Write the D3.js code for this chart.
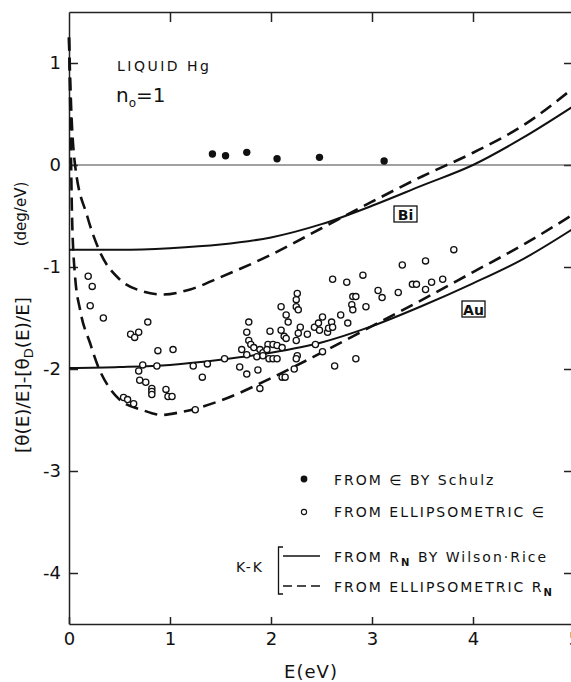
<!DOCTYPE html>
<meta charset="UTF-8">
<style>
  body { margin: 0; background: #fff; }
  svg text { font-family: "DejaVu Sans", sans-serif; fill: #111; }
  .axis path, .axis line { stroke: #222; stroke-width: 1.5px; }
  .axis text { font-size: 18px; font-family: "DejaVu Sans", sans-serif; fill: #111; }
  .curve { fill: none; stroke: #111; stroke-width: 2px; }
  .dashed { stroke-dasharray: 13,7; stroke-width: 2.6px; }
</style>
<body>
<svg id="chart" width="571" height="682"></svg>

<script src="https://d3js.org/d3.v7.min.js"></script>
<script>

// tick values
var xTicks = [0, 1, 2, 3, 4, 5];
var yTicks = [1, 0, -1, -2, -3, -4];

// filled dots : from epsilon by Schulz
var schulzE   = [1.42, 1.55, 1.76, 2.06, 2.48, 3.12];
var schulzVal = [0.108, 0.091, 0.124, 0.062, 0.075, 0.039];

// open circles : from ellipsometric epsilon
var ellipsE = [0.19, 0.23, 0.21, 0.34, 0.78, 0.61, 0.69, 0.65, 0.88, 1.03,
  0.73, 0.69, 0.87, 1.23, 0.70, 0.76, 0.82, 0.82, 0.82, 0.96,
  0.98, 1.02, 0.54, 0.58, 0.64, 1.25, 1.37, 1.54, 1.32,
  1.69, 1.76, 1.87, 1.89, 1.78, 1.76, 1.78, 1.80, 1.83, 1.71,
  1.76, 1.86, 1.89, 1.92, 1.92, 1.97, 1.96, 2.02, 2.06, 2.11,
  1.99, 1.98, 2.02, 2.06, 2.10, 2.13, 2.15, 2.10, 2.15, 2.17,
  2.25, 2.26, 2.25, 2.27, 2.29, 2.27, 2.25, 2.26, 2.25, 2.23,
  2.11, 2.14, 2.36, 2.43, 2.47, 2.44,
  2.48, 2.51, 2.51, 2.56, 2.57, 2.60, 2.61, 2.61, 2.63, 2.69,
  2.75, 2.76, 2.81, 2.84, 2.80, 2.81, 2.84, 2.91, 2.94, 3.06,
  3.10, 3.26, 3.30, 3.40, 3.44, 3.53, 3.53, 3.59, 3.70, 3.81];
var ellipsVal = [-1.09, -1.19, -1.38, -1.50, -1.54, -1.66, -1.64, -1.69, -1.82, -1.81,
  -1.96, -2.02, -1.97, -1.97, -2.11, -2.13, -2.19, -2.22, -2.25, -2.20,
  -2.27, -2.27, -2.28, -2.30, -2.34, -2.40, -1.95, -1.90, -2.08,
  -1.98, -2.05, -2.01, -2.19, -1.54, -1.64, -1.72, -1.76, -1.79, -1.81,
  -1.86, -1.88, -1.81, -1.84, -1.87, -1.76, -1.81, -1.76, -1.77, -1.79,
  -1.63, -1.90, -1.90, -1.90, -1.62, -1.68, -1.70, -1.39, -1.47, -1.54,
  -1.32, -1.26, -1.39, -1.42, -1.59, -1.65, -1.72, -1.87, -1.90, -2.00,
  -2.08, -2.08, -1.66, -1.59, -1.55, -1.76,
  -1.62, -1.49, -1.83, -1.64, -1.60, -1.54, -1.59, -1.12, -1.97, -1.47,
  -1.15, -1.55, -1.29, -1.29, -1.37, -1.42, -1.90, -1.08, -1.39, -1.23,
  -1.30, -1.25, -0.98, -1.17, -1.17, -1.22, -0.94, -1.15, -1.12, -0.83];

// K-K curves, Bi
var biSolidE   = [0, 0.5, 1.0, 1.5, 2.0, 2.5, 3.0, 3.5, 4.0, 4.5, 5.0];
var biSolidVal = [-0.83, -0.83, -0.815, -0.78, -0.71, -0.58, -0.40, -0.20, 0.0, 0.27, 0.58];
var biDashE    = [0.0, 0.02, 0.06, 0.18, 0.31, 0.5, 0.7, 0.93, 1.2, 1.5, 2.0, 2.5, 3.0, 3.5, 4.0, 4.5, 5.0];
var biDashVal  = [1.25, 0.6, 0.0, -0.5, -0.86, -1.12, -1.23, -1.27, -1.22, -1.10, -0.88, -0.62, -0.36, -0.11, 0.12, 0.39, 0.76];

// K-K curves, Au
var auSolidE   = [0, 0.5, 1.0, 1.5, 2.0, 2.5, 3.0, 3.5, 4.0, 4.5, 5.0];
var auSolidVal = [-1.99, -1.98, -1.96, -1.91, -1.84, -1.74, -1.58, -1.38, -1.16, -0.92, -0.62];
var auDashE    = [0.0, 0.015, 0.03, 0.06, 0.11, 0.21, 0.29, 0.39, 0.5, 0.72, 0.92, 1.12, 1.5, 2.0, 2.5, 3.0, 3.5, 4.0, 4.5, 5.0];
var auDashVal  = [1.25, 0.4, -0.5, -1.09, -1.42, -1.75, -1.98, -2.17, -2.30, -2.40, -2.45, -2.42, -2.31, -2.09, -1.84, -1.58, -1.32, -1.05, -0.78, -0.48];

var svg = d3.select("#chart");

var x = d3.scaleLinear().domain([0, 5]).range([69, 574]);
var y = d3.scaleLinear().domain([-4.5, 1.5]).range([624, 12]);

function pairs(xs, ys) {
  return xs.map(function(d, i) { return [d, ys[i]]; });
}

// ---- axes (inner ticks on all four sides)
svg.append("g").attr("class", "axis")
    .attr("transform", "translate(" + x(0) + ",0)")
    .call(d3.axisLeft(y).tickValues(yTicks).tickSize(-9).tickSizeOuter(0).tickPadding(8)
          .tickFormat(function(d) { return d < 0 ? "-" + (-d) : d; }));

svg.append("g").attr("class", "axis")
    .attr("transform", "translate(0," + y(-4.5) + ")")
    .call(d3.axisBottom(x).tickValues(xTicks).tickSize(-7).tickSizeOuter(0).tickPadding(8)
          .tickFormat(d3.format("d")));

svg.append("g").attr("class", "axis")
    .attr("transform", "translate(0," + y(1.5) + ")")
    .call(d3.axisTop(x).tickValues(xTicks.slice(1, 5)).tickSize(-10).tickSizeOuter(0).tickFormat(""));

svg.append("g").attr("class", "axis")
    .attr("transform", "translate(" + x(5) + ",0)")
    .call(d3.axisRight(y).tickValues(yTicks).tickSize(-10).tickSizeOuter(0).tickFormat(""));

// zero line
svg.append("line")
    .attr("x1", x(0)).attr("x2", x(5))
    .attr("y1", y(0)).attr("y2", y(0))
    .attr("stroke", "#444").attr("stroke-width", 1.1);

// ---- curves
var line = d3.line()
    .x(function(d) { return x(d[0]); })
    .y(function(d) { return y(d[1]); })
    .curve(d3.curveMonotoneX);

[[biSolidE, biSolidVal, false], [biDashE, biDashVal, true],
 [auSolidE, auSolidVal, false], [auDashE, auDashVal, true]].forEach(function(c) {
  svg.append("path")
      .attr("class", c[2] ? "curve dashed" : "curve")
      .attr("d", line(pairs(c[0], c[1])));
});

// ---- points
svg.append("g").selectAll("circle")
    .data(pairs(ellipsE, ellipsVal))
  .enter().append("circle")
    .attr("cx", function(d) { return x(d[0]); })
    .attr("cy", function(d) { return y(d[1]); })
    .attr("r", 3.1)
    .attr("fill", "#fff")
    .attr("stroke", "#111")
    .attr("stroke-width", 1.3);

svg.append("g").selectAll("circle")
    .data(pairs(schulzE, schulzVal))
  .enter().append("circle")
    .attr("cx", function(d) { return x(d[0]); })
    .attr("cy", function(d) { return y(d[1]); })
    .attr("r", 3.7)
    .attr("fill", "#111");

// ---- labels in plot
svg.append("text").attr("x", 117).attr("y", 71).style("font-size", "14px")
    .style("letter-spacing", "2.5px").text("LIQUID  Hg");

var n0 = svg.append("text").attr("x", 116).attr("y", 102).style("font-size", "20px");
n0.append("tspan").text("n");
n0.append("tspan").attr("dy", 5).style("font-size", "12px").text("o");
n0.append("tspan").attr("dy", -5).text("=1");

function boxLabel(txt, cx, cy, w) {
  svg.append("rect").attr("x", cx - w / 2).attr("y", cy - 8).attr("width", w).attr("height", 16)
      .attr("fill", "none").attr("stroke", "#111").attr("stroke-width", 1.3);
  svg.append("text").attr("x", cx).attr("y", cy + 5.5).attr("text-anchor", "middle")
      .style("font-size", "14px").style("font-weight", "bold").text(txt);
}
boxLabel("Bi", 405.5, 214, 23);
boxLabel("Au", 473.5, 309, 23);

// ---- axis titles
svg.append("text").attr("x", 311).attr("y", 678).attr("text-anchor", "middle")
    .style("font-size", "18px").style("letter-spacing", "1px").text("E(eV)");

var yl = svg.append("text")
    .attr("transform", "translate(29,375) rotate(-90)")
    .attr("text-anchor", "middle").style("font-size", "17px")
    .attr("textLength", 156).attr("lengthAdjust", "spacingAndGlyphs");
yl.append("tspan").text("[θ(E)/E]-[θ");
yl.append("tspan").attr("dy", 4).style("font-size", "12px").text("D");
yl.append("tspan").attr("dy", -4).text("(E)/E]");

svg.append("text")
    .attr("transform", "translate(26,214) rotate(-90)")
    .attr("text-anchor", "middle").style("font-size", "15px").text("(deg/eV)");

// ---- legend
var lg = svg.append("g").style("font-size", "14px").style("letter-spacing", "2px");
lg.append("circle").attr("cx", 304).attr("cy", 479).attr("r", 3.4).attr("fill", "#111");
lg.append("text").attr("x", 334).attr("y", 485).text("FROM  ∈  BY  Schulz");
lg.append("circle").attr("cx", 304).attr("cy", 512).attr("r", 2.6)
    .attr("fill", "#fff").attr("stroke", "#111").attr("stroke-width", 1.1);
lg.append("text").attr("x", 334).attr("y", 517).text("FROM  ELLIPSOMETRIC  ∈");

lg.append("text").attr("x", 236).attr("y", 572).text("K-K");
lg.append("path").attr("d", "M283,547 H278.5 V594 H283")
    .attr("fill", "none").attr("stroke", "#111").attr("stroke-width", 1.3);
lg.append("line").attr("x1", 283).attr("x2", 320).attr("y1", 556).attr("y2", 556)
    .attr("stroke", "#111").attr("stroke-width", 1.6);
lg.append("line").attr("x1", 283).attr("x2", 320).attr("y1", 586).attr("y2", 586)
    .attr("stroke", "#111").attr("stroke-width", 1.6).attr("stroke-dasharray", "9,5");

var t3 = lg.append("text").attr("x", 334).attr("y", 562);
t3.append("tspan").text("FROM  R");
t3.append("tspan").attr("dy", 4).style("font-size", "10px").style("font-weight", "bold").text("N");
t3.append("tspan").attr("dy", -4).text("  BY  Wilson·Rice");

var t4 = lg.append("text").attr("x", 334).attr("y", 592);
t4.append("tspan").text("FROM  ELLIPSOMETRIC  R");
t4.append("tspan").attr("dy", 4).style("font-size", "10px").style("font-weight", "bold").text("N");

</script>
</body>
